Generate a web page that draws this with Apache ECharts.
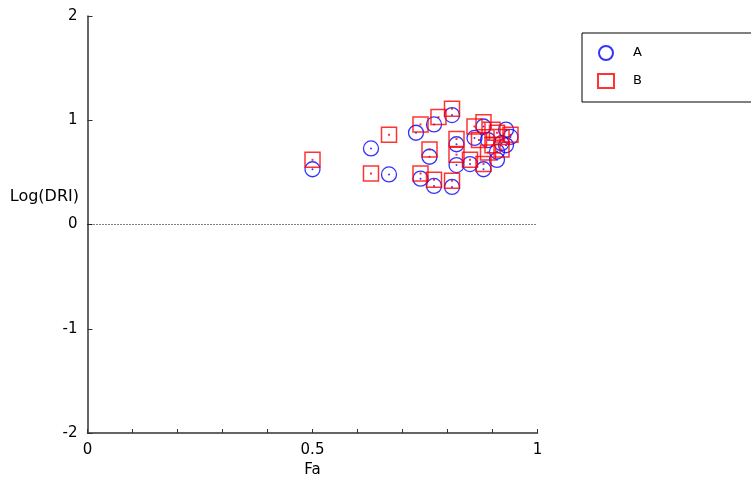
<!DOCTYPE html>
<html>
<head>
<meta charset="utf-8">
<script src="https://cdn.jsdelivr.net/npm/echarts@6/dist/echarts.min.js"></script>
<style>
  html, body { margin: 0; padding: 0; background: #fff; }
  #chart { width: 751px; height: 477px; }
</style>
</head>
<body>
<div id="chart"></div>
<script>
// values: [Fa, Log(DRI)]
var seriesA = [
  [0.50, 0.53], [0.63, 0.73], [0.67, 0.48], [0.73, 0.88], [0.77, 0.96],
  [0.81, 1.05], [0.76, 0.65], [0.74, 0.44], [0.77, 0.37], [0.81, 0.36],
  [0.82, 0.77], [0.82, 0.57], [0.85, 0.58], [0.88, 0.53], [0.86, 0.83],
  [0.88, 0.94], [0.91, 0.70], [0.94, 0.84], [0.89, 0.81], [0.93, 0.91],
  [0.91, 0.62], [0.92, 0.78], [0.93, 0.76]
]
var seriesB = [
  [0.50, 0.62], [0.67, 0.86], [0.63, 0.49], [0.74, 0.96], [0.78, 1.03],
  [0.81, 1.11], [0.76, 0.72], [0.74, 0.49], [0.77, 0.43], [0.81, 0.42],
  [0.82, 0.82], [0.82, 0.67], [0.86, 0.94], [0.88, 0.98], [0.87, 0.81],
  [0.85, 0.62], [0.88, 0.58], [0.90, 0.91], [0.91, 0.88], [0.92, 0.84],
  [0.94, 0.86], [0.92, 0.72], [0.90, 0.76], [0.89, 0.69]
]
var xLabels = { '0': '0', '0.5': '0.5', '1': '1' }

var blue = '#0000ff'
var red = '#ff0000'
var font = 'DejaVu Sans, sans-serif'

var chart = echarts.init(document.getElementById('chart'))
var option = {
  animation: false,
  grid: {
    left: 87.5,
    top: 16,
    right: 213.5,
    bottom: 44,
    outerBoundsMode: 'none'
  },
  legend: {
    data: ['A', 'B'],
    orient: 'vertical',
    left: 582,
    top: 33,
    padding: [12, 130, 13, 15],
    itemWidth: 16,
    itemHeight: 14,
    itemGap: 12,
    borderColor: '#000',
    borderWidth: 1,
    textStyle: {
      fontFamily: font,
      fontSize: 13,
      color: '#000',
      padding: [0, 0, 0, 14]
    }
  },
  graphic: [
    {
      type: 'text',
      right: 751 - 79,
      top: 189,
      style: {
        text: 'Log(DRI)',
        font: '16px DejaVu Sans, sans-serif',
        fill: '#000'
      }
    }
  ],
  xAxis: {
    type: 'value',
    min: 0,
    max: 1,
    interval: 0.1,
    name: 'Fa',
    nameLocation: 'middle',
    nameGap: 27,
    nameTextStyle: { fontFamily: font, fontSize: 15, color: '#000' },
    splitLine: { show: false },
    axisLine: { onZero: false, lineStyle: { color: '#333', width: 1.5 } },
    axisTick: { inside: true, length: 4, lineStyle: { color: '#333' } },
    axisLabel: {
      margin: 10,
      fontFamily: font,
      fontSize: 15,
      color: '#000',
      formatter: function (v) {
        var k = String(Math.round(v * 10) / 10)
        return xLabels[k] || ''
      }
    }
  },
  yAxis: {
    type: 'value',
    min: -2,
    max: 2,
    interval: 1,
    splitLine: { show: false },
    axisLine: { show: true, onZero: false, lineStyle: { color: '#333', width: 1.5 } },
    axisTick: { show: true, inside: true, length: 5, lineStyle: { color: '#333' } },
    axisLabel: { margin: 10, fontFamily: font, fontSize: 15, color: '#000' }
  },
  series: [
    {
      name: 'A',
      type: 'scatter',
      symbol: 'circle',
      symbolSize: 15,
      itemStyle: { color: 'rgba(0,0,0,0)', borderColor: blue, borderWidth: 1.3 },
      data: seriesA,
      markLine: {
        silent: true,
        symbol: 'none',
        label: { show: false },
        lineStyle: { color: '#000', type: [1, 2], width: 1 },
        data: [{ yAxis: 0 }]
      }
    },
    {
      name: 'A',
      type: 'scatter',
      symbol: 'circle',
      symbolSize: 2,
      itemStyle: { color: blue },
      data: seriesA
    },
    {
      name: 'B',
      type: 'scatter',
      symbol: 'rect',
      symbolSize: 15,
      itemStyle: { color: 'rgba(0,0,0,0)', borderColor: red, borderWidth: 1.5 },
      data: seriesB
    },
    {
      name: 'B',
      type: 'scatter',
      symbol: 'rect',
      symbolSize: 2,
      itemStyle: { color: red },
      data: seriesB
    }
  ]
}
chart.setOption(option)
</script>
</body>
</html>
